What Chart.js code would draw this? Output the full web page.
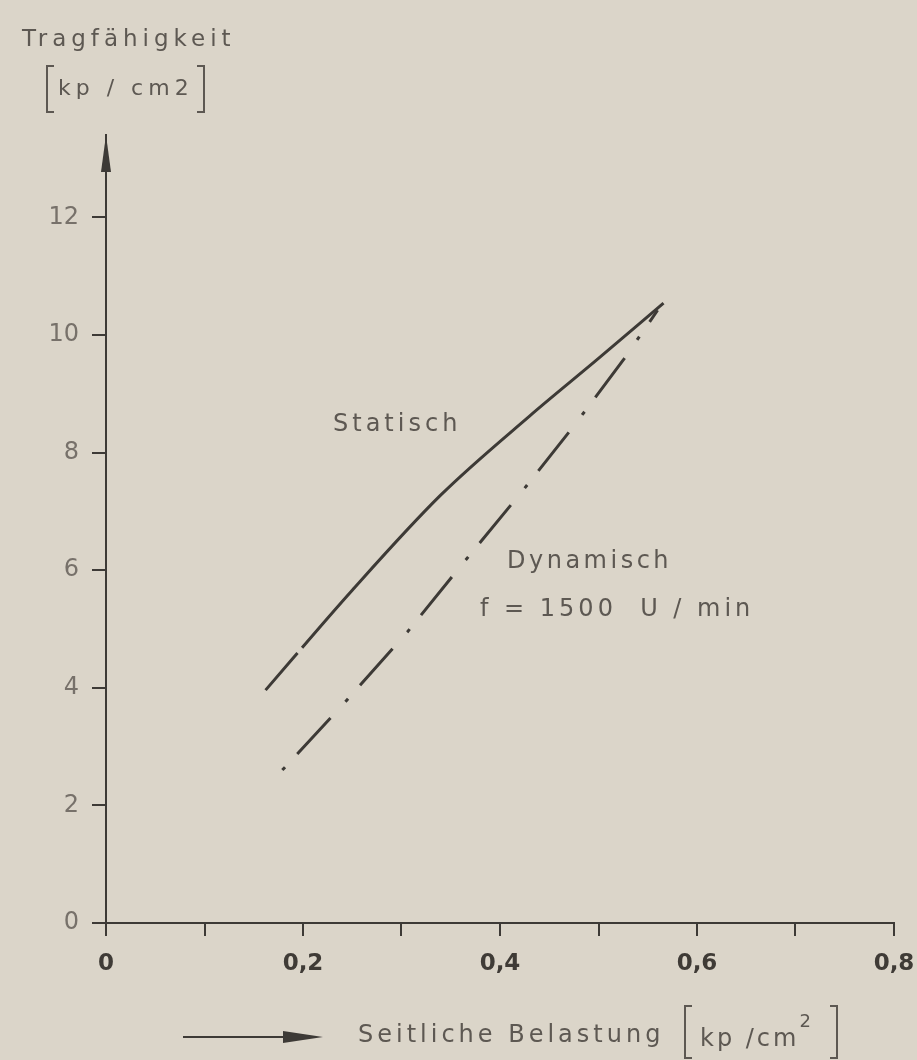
<!DOCTYPE html>
<html>
<head>
<meta charset="utf-8">
<script src="https://cdn.jsdelivr.net/npm/chart.js@4"></script>
<style>
  body { margin: 0; background: #dbd5c9; }
  #wrap { width: 917px; height: 1060px; }
</style>
</head>
<body>
<div id="wrap"><canvas id="chart"></canvas></div>
<script>
// values
const xTicks = [0, 0.1, 0.2, 0.3, 0.4, 0.5, 0.6, 0.7, 0.8];
const yTicks = [0, 2, 4, 6, 8, 10, 12];

const statX = [0.162, 0.25, 0.34, 0.43, 0.50, 0.566];
const statY = [3.96, 5.66, 7.28, 8.62, 9.60, 10.54];

const dynX = [0.179, 0.243, 0.306, 0.365, 0.421, 0.474, 0.525, 0.560];
const dynY = [2.60, 3.76, 4.95, 6.17, 7.31, 8.43, 9.57, 10.42];

const ink = "#3d3a36";
const grey = "#5d5852";
const font = "'DejaVu Sans', sans-serif";

function toPoints(xs, ys) {
    return xs.map((x, i) => ({ x: x, y: ys[i] }));
}

// text, arrows and brackets that are not part of the axes
const decorations = {
    id: "decorations",
    beforeDraw(chart) {
        const c = chart.ctx;
        c.save();
        c.fillStyle = "#dbd5c9";
        c.fillRect(0, 0, chart.width, chart.height);
        c.restore();
    },
    afterDraw(chart) {
        const c = chart.ctx;
        const xs = chart.scales.x;
        const area = chart.chartArea;
        c.save();

        // arrow head on the y axis
        const ax = xs.getPixelForValue(0);
        c.fillStyle = ink;
        c.beginPath();
        c.moveTo(ax, area.top);
        c.lineTo(ax - 5, area.top + 37);
        c.lineTo(ax + 5, area.top + 37);
        c.closePath();
        c.fill();

        c.fillStyle = grey;
        c.textBaseline = "middle";
        c.textAlign = "left";

        // curve labels
        c.font = "24px " + font;
        c.letterSpacing = "4px";
        c.fillText("Statisch", 333, 425);
        c.letterSpacing = "3.5px";
        c.fillText("Dynamisch", 507, 562);
        c.letterSpacing = "4px";
        c.fillText("f = 1500  U / min", 480, 610);

        // y axis title
        c.font = "23px " + font;
        c.letterSpacing = "5px";
        c.fillText("Tragfähigkeit", 22, 40);
        c.font = "22px " + font;
        c.letterSpacing = "5px";
        c.fillText("kp / cm2", 58, 89);

        c.strokeStyle = grey;
        c.lineWidth = 2;
        function bracket(x, y1, y2, dir) {
            c.beginPath();
            c.moveTo(x + dir * 7, y1);
            c.lineTo(x, y1);
            c.lineTo(x, y2);
            c.lineTo(x + dir * 7, y2);
            c.stroke();
        }
        bracket(47, 66, 112, 1);
        bracket(204, 66, 112, -1);

        // x axis title with arrow
        c.strokeStyle = ink;
        c.fillStyle = ink;
        c.lineWidth = 2;
        c.beginPath();
        c.moveTo(183, 1037);
        c.lineTo(290, 1037);
        c.stroke();
        c.beginPath();
        c.moveTo(283, 1031);
        c.lineTo(323, 1037);
        c.lineTo(283, 1043);
        c.closePath();
        c.fill();

        c.fillStyle = grey;
        c.font = "24px " + font;
        c.letterSpacing = "4px";
        c.fillText("Seitliche Belastung", 358, 1036);
        c.letterSpacing = "3px";
        const unit = "kp /cm";
        c.fillText(unit, 700, 1040);
        const w = c.measureText(unit).width;
        c.font = "18px " + font;
        c.fillText("2", 700 + w, 1022);
        c.strokeStyle = grey;
        bracket(685, 1006, 1058, 1);
        bracket(837, 1006, 1058, -1);

        c.restore();
    }
};

const ctx = document.getElementById("chart").getContext("2d");
const chart = new Chart(ctx, {
    type: "scatter",
    data: {
        datasets: [
            {
                label: "Statisch",
                data: toPoints(statX, statY),
                showLine: true,
                borderColor: ink,
                borderWidth: 3,
                borderDash: [49, 7, 3000, 0],
                pointRadius: 0,
                cubicInterpolationMode: "monotone",
            },
            {
                label: "Dynamisch f = 1500 U/min",
                data: toPoints(dynX, dynY),
                showLine: true,
                borderColor: ink,
                borderWidth: 3,
                borderDash: [4, 18, 49, 22],
                pointRadius: 0,
                tension: 0,
            },
        ],
    },
    options: {
        responsive: true,
        maintainAspectRatio: false,
        animation: false,
        layout: { padding: { top: 135, right: 23, left: 0, bottom: 0 } },
        plugins: {
            legend: { display: false },
            tooltip: { enabled: false },
        },
        scales: {
            x: {
                type: "linear",
                min: 0,
                max: 0.8,
                afterBuildTicks: (scale) => {
                    scale.ticks = xTicks.map((v) => ({ value: v }));
                },
                afterFit: (scale) => {
                    scale.height = 137;
                    scale.paddingLeft = 0;
                    scale.paddingRight = 0;
                },
                grid: {
                    drawOnChartArea: false,
                    drawTicks: true,
                    tickLength: 13,
                    color: ink,
                    lineWidth: 2,
                },
                border: { color: ink, width: 2 },
                ticks: {
                    autoSkip: false,
                    maxRotation: 0,
                    padding: 14,
                    color: "#3f3b36",
                    font: { family: font, size: 23, weight: "bold" },
                    callback: (v) => {
                        const r = Math.round(v * 10);
                        if (r % 2 !== 0) return "";
                        return r === 0 ? "0" : (r / 10).toFixed(1).replace(".", ",");
                    },
                },
            },
            y: {
                type: "linear",
                min: 0,
                max: 13.4,
                afterBuildTicks: (scale) => {
                    scale.ticks = yTicks.map((v) => ({ value: v }));
                },
                afterFit: (scale) => {
                    scale.width = 106;
                    scale.paddingTop = 0;
                    scale.paddingBottom = 0;
                },
                grid: {
                    drawOnChartArea: false,
                    drawTicks: true,
                    tickLength: 14,
                    color: ink,
                    lineWidth: 2,
                },
                border: { color: ink, width: 2 },
                ticks: {
                    padding: 13,
                    color: "#77716a",
                    font: { family: font, size: 24 },
                },
            },
        },
    },
    plugins: [decorations],
});
</script>
</body>
</html>
